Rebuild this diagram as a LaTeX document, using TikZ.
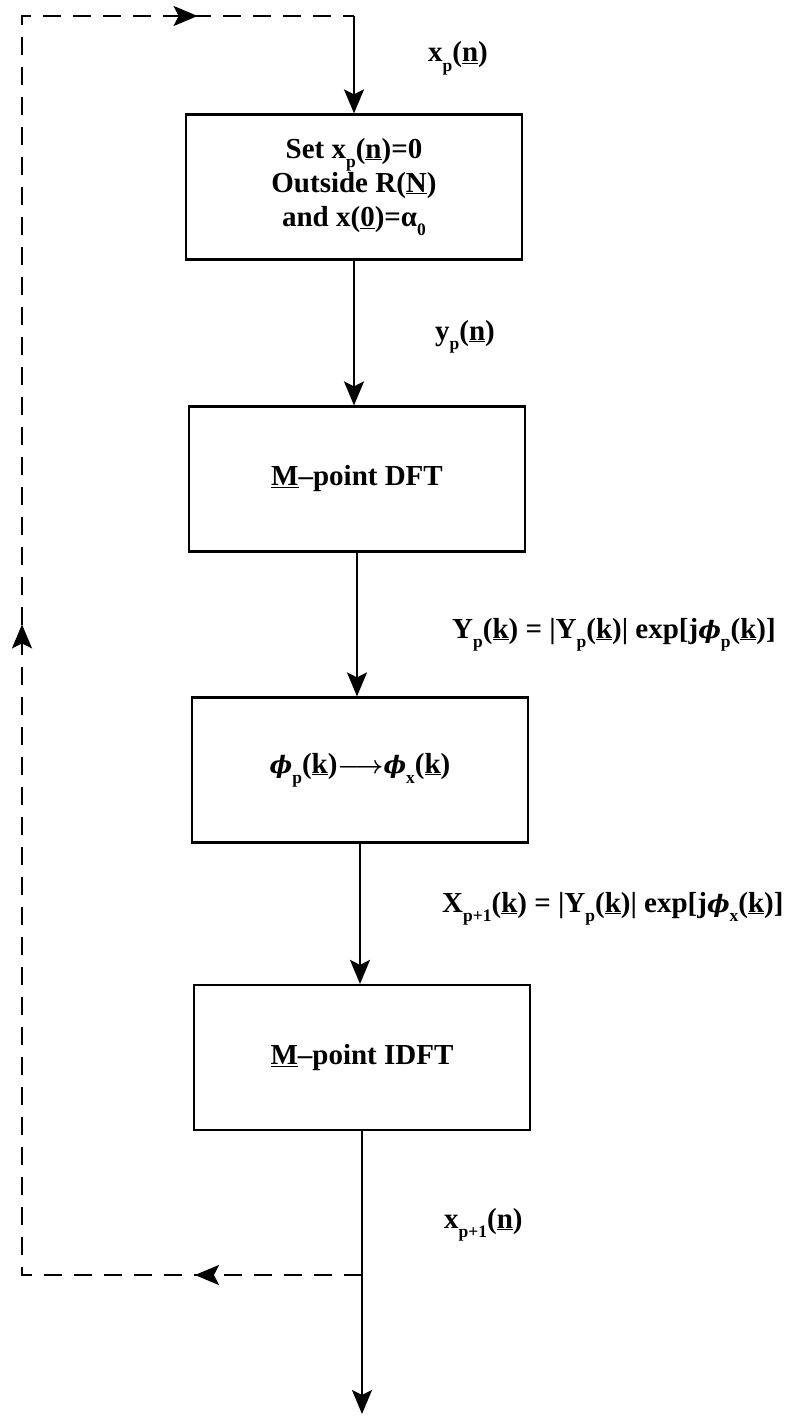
\documentclass[tikz,border=0pt]{standalone}
\usepackage{fontspec}
\setmainfont{Liberation Serif}[Ligatures=TeX]
\newfontfamily\phifont{DejaVu Serif}
\usetikzlibrary{arrows.meta,decorations.markings}
\newcommand{\lsub}[1]{\raisebox{-0.34em}{\fontsize{17.5}{17.5}\selectfont #1}}
\newcommand{\phisym}{{\phifont\bfseries\itshape\fontsize{24}{24}\selectfont ϕ}}
\begin{document}
\begin{tikzpicture}[x=1pt,y=-1pt,
  box/.style={draw, line width=2.2pt, minimum width=336pt, minimum height=145pt,
    align=center, inner sep=0pt, font=\bfseries\fontsize{29}{34}\selectfont},
  lbl/.style={anchor=base west, inner sep=0pt, font=\bfseries\fontsize{29}{34}\selectfont},
  flow/.style={line width=2.2pt, -{Stealth[length=24pt,width=20pt,inset=5pt]}},
  fb/.style={line width=2.2pt, dash pattern=on 18pt off 12pt, line join=miter,
    postaction={decorate},
    decoration={markings,
      mark=at position 0.0865 with {\arrow{Stealth[length=24pt,width=20pt,inset=5pt]}},
      mark=at position 0.513 with {\arrow{Stealth[length=24pt,width=20pt,inset=5pt]}},
      mark=at position 0.919 with {\arrow{Stealth[length=24pt,width=20pt,inset=5pt]}}}}
]
\fill[white] (0,0) rectangle (804,1418);
\useasboundingbox (0,0) rectangle (804,1418);

\node[box] (b1) at (354,187) {Set x\lsub{p}(\underline{n})=0\\Outside R(\underline{N})\\and x(\underline{0})=α\lsub{0}};
\node[box] (b2) at (357,479) {\underline{M}–point DFT};
\node[box] (b3) at (360,770) {\phisym\lsub{p}(\underline{k}){\boldmath$\longrightarrow$}\phisym\lsub{x}(\underline{k})};
\node[box] (b4) at (362,1057.5) {\underline{M}–point IDFT};

\node[lbl] (l1) at (428,62) {x\lsub{p}(\underline{n})};
\node[lbl] (l2) at (435,340) {y\lsub{p}(\underline{n})};
\node[lbl] (l3) at (452,638) {Y\lsub{p}(\underline{k}) = |Y\lsub{p}(\underline{k})| exp[j\phisym\lsub{p}(\underline{k})]};
\node[lbl] (l4) at (442,912) {X\lsub{p+1}(\underline{k}) = |Y\lsub{p}(\underline{k})| exp[j\phisym\lsub{x}(\underline{k})]};
\node[lbl] (l5) at (444,1228) {x\lsub{p+1}(\underline{n})};

\coordinate (tc) at (354,16);
\coordinate (tl) at (22,16);
\coordinate (bl) at (22,1275);
\coordinate (jn) at (362,1275);
\coordinate (out) at (362,1414);

\draw[flow] (tc) -- (b1.north);
\draw[flow] (b1.south) -- (b1.south |- b2.north);
\draw[flow] (b2.south) -- (b2.south |- b3.north);
\draw[flow] (b3.south) -- (b3.south |- b4.north);
\draw[flow] (b4.south) -- (out);
\draw[fb] (jn) -- (bl) -- (tl) -- (tc);
\end{tikzpicture}
\end{document}
